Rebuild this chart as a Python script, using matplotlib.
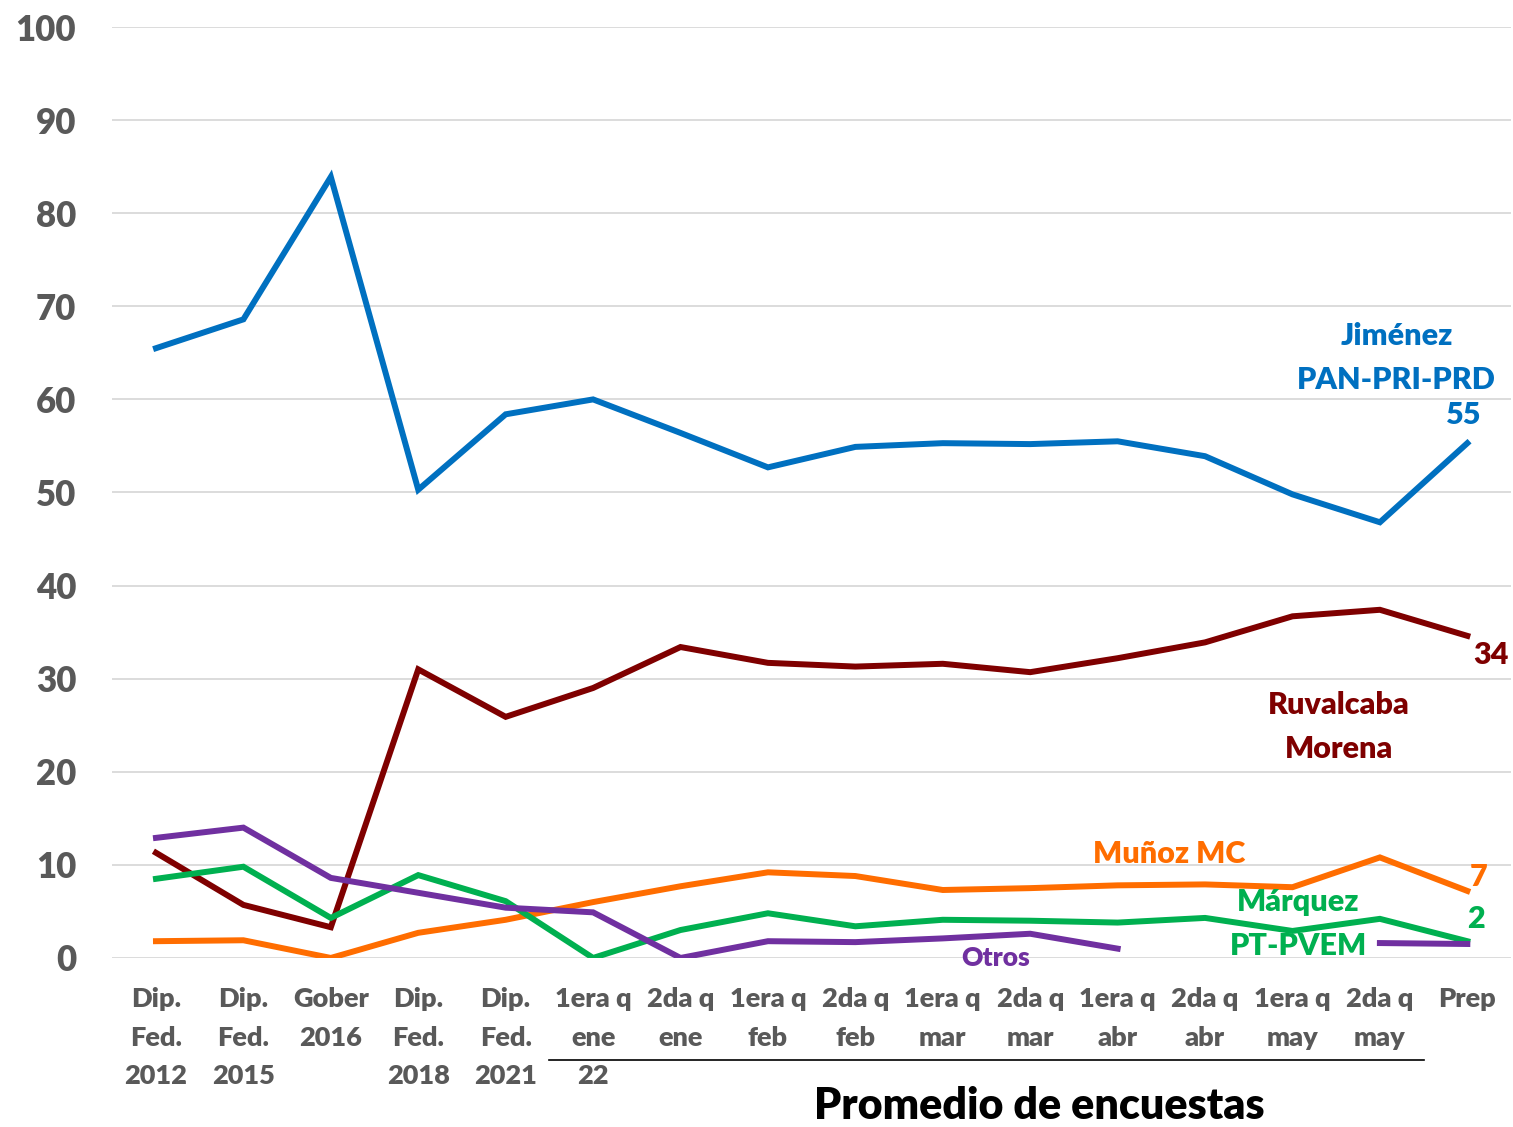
import numpy as np
import matplotlib.pyplot as plt
import matplotlib.transforms as mtransforms

# Data
categories = ["Dip.\nFed.\n2012", "Dip.\nFed.\n2015", "Gober\n2016", "Dip.\nFed.\n2018",
              "Dip.\nFed.\n2021", "1era q\nene\n22", "2da q\nene", "1era q\nfeb", "2da q\nfeb",
              "1era q\nmar", "2da q\nmar", "1era q\nabr", "2da q\nabr", "1era q\nmay",
              "2da q\nmay", "Prep"]

jimenez = [65.5, 68.6, 83.9, 50.3, 58.4, 60.0, 56.4, 52.7, 54.9, 55.3, 55.2, 55.5, 53.9, 49.8, 46.8, 55.3]
ruvalcaba = [11.3, 5.7, 3.3, 31.0, 25.9, 29.0, 33.4, 31.7, 31.3, 31.6, 30.7, 32.2, 33.9, 36.7, 37.4, 34.6]
munoz = [1.8, 1.9, 0.0, 2.7, 4.1, 6.0, 7.7, 9.2, 8.8, 7.3, 7.5, 7.8, 7.9, 7.6, 10.8, 7.2]
marquez = [8.5, 9.8, 4.3, 8.9, 6.1, 0.0, 3.0, 4.8, 3.4, 4.1, 4.0, 3.8, 4.3, 2.9, 4.2, 1.8]
otros = [12.9, 14.0, 8.6, 7.0, 5.4, 4.9, 0.0, 1.8, 1.7, 2.1, 2.6, 1.0, np.nan, np.nan, 1.6, 1.5]

BLUE = "#0070C0"
RED = "#7F0000"
ORANGE = "#FF6D00"
GREEN = "#00B050"
PURPLE = "#7030A0"
GRAY = "#595959"
W = "heavy"

plt.rcParams["font.family"] = ["Lato", "DejaVu Sans"]

fig = plt.figure(figsize=(15.13, 11.27), dpi=100)
ax = fig.add_axes([0.0742, 0.150, 0.9245, 0.826])

x = np.arange(len(categories))
lw = 4.3
ax.plot(x, jimenez, color=BLUE, lw=lw, solid_joinstyle="miter", zorder=3)
ax.plot(x, ruvalcaba, color=RED, lw=lw, solid_joinstyle="miter", zorder=3)
ax.plot(x, munoz, color=ORANGE, lw=lw, solid_joinstyle="miter", zorder=3)
ax.plot(x, marquez, color=GREEN, lw=lw, solid_joinstyle="miter", zorder=3)
ax.plot(x, otros, color=PURPLE, lw=lw, solid_joinstyle="miter", zorder=3)

ax.set_xlim(-0.5, len(categories) - 0.5)
ax.set_ylim(0, 100)
ax.set_yticks(np.arange(0, 101, 10))
ax.yaxis.grid(True, color="#D9D9D9", lw=1.3)
ax.set_axisbelow(True)
for s in ax.spines.values():
    s.set_visible(False)
ax.tick_params(axis="y", length=0, pad=26, labelsize=25, labelcolor=GRAY)
ax.tick_params(axis="x", length=0, pad=21, labelsize=19.5, labelcolor=GRAY)
ax.set_xticks(x)
ax.set_xticklabels(categories, fontweight=W, linespacing=1.72, va="top")
for t in ax.get_yticklabels():
    t.set_fontweight(W)

# series labels
fs = 22
ax.text(14.19, 66.8, "Jiménez", color=BLUE, fontsize=fs, fontweight=W, ha="center", va="center")
ax.text(14.19, 62.1, "PAN-PRI-PRD", color=BLUE, fontsize=fs, fontweight=W, ha="center", va="center")
ax.text(14.96, 58.3, "55", color=BLUE, fontsize=fs, fontweight=W, ha="center", va="center")
ax.text(15.27, 32.5, "34", color=RED, fontsize=fs, fontweight=W, ha="center", va="center")
ax.text(13.53, 27.2, "Ruvalcaba", color=RED, fontsize=fs, fontweight=W, ha="center", va="center")
ax.text(13.53, 22.4, "Morena", color=RED, fontsize=fs, fontweight=W, ha="center", va="center")
ax.text(11.59, 11.2, "Muñoz MC", color=ORANGE, fontsize=fs, fontweight=W, ha="center", va="center")
ax.text(15.13, 8.7, "7", color=ORANGE, fontsize=fs, fontweight=W, ha="center", va="center")
ax.text(13.07, 6.0, "Márquez", color=GREEN, fontsize=fs, fontweight=W, ha="center", va="center")
ax.text(13.07, 1.3, "PT-PVEM", color=GREEN, fontsize=fs, fontweight=W, ha="center", va="center")
ax.text(15.1, 4.2, "2", color=GREEN, fontsize=fs, fontweight=W, ha="center", va="center")
ax.text(9.6, 0.0, "Otros", color=PURPLE, fontsize=19, fontweight=W, ha="center", va="center")

# bracket under the poll averages
trans = mtransforms.blended_transform_factory(ax.transData, fig.transFigure)
ax.plot([4.5, 14.5], [0.0595, 0.0595], color="black", lw=1.2, transform=trans, clip_on=False)
fig.text(0.687, 0.0186, "Promedio de encuestas", fontsize=31, fontweight=W,
         color="black", ha="center", va="center")

fig.savefig("out.png", dpi=100)
